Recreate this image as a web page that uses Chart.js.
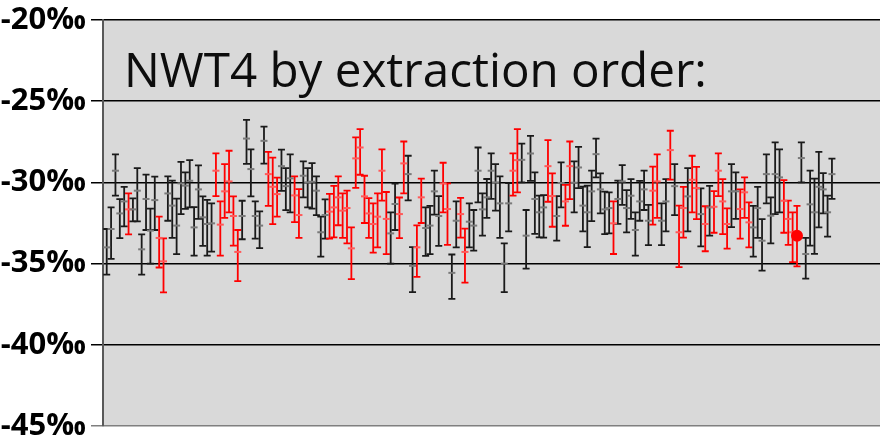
<!DOCTYPE html>
<html><head><meta charset="utf-8">
<script src="https://cdn.jsdelivr.net/npm/chart.js@4"></script>
<style>html,body{margin:0;padding:0;background:#fff}#wrap{width:887px;height:442px;position:relative}</style>
</head><body><div id="wrap"><canvas id="c"></canvas></div>
<script>
const titleText = 'NWT4 by extraction order:';
const yTicks = [-45, -40, -35, -30, -25, -20];
const tickSuffix = '\u2030';
const values = [
-34.00,-32.87,-29.28,-31.91,-31.17,-31.66,-31.66,-30.51,-34.12,-31.02,
-32.97,-31.09,-33.42,-34.86,-30.68,-31.43,-32.66,-30.06,-30.20,-29.90,
-32.77,-30.43,-32.15,-32.56,-32.52,-29.28,-32.60,-30.55,-29.94,-32.07,
-34.28,-32.07,-27.30,-29.18,-32.07,-32.66,-27.44,-29.49,-30.27,-30.72,
-29.00,-30.23,-29.75,-30.80,-32.01,-29.59,-30.00,-29.96,-30.51,-33.07,
-32.01,-31.80,-31.54,-30.92,-31.74,-31.58,-34.06,-28.52,-27.85,-30.86,
-31.91,-32.56,-32.11,-29.28,-32.25,-33.14,-31.33,-31.95,-28.83,-29.49,
-35.14,-34.00,-30.92,-32.81,-32.66,-30.55,-32.07,-30.06,-31.64,-35.57,
-32.36,-31.95,-34.28,-32.42,-32.66,-29.28,-31.66,-30.92,-29.28,-30.00,
-31.29,-35.00,-31.29,-29.28,-28.63,-28.61,-33.28,-28.22,-31.02,-31.84,
-31.54,-29.00,-30.84,-32.07,-30.04,-31.17,-29.00,-30.02,-29.08,-31.43,
-31.84,-30.55,-28.26,-30.43,-31.66,-31.58,-32.52,-31.02,-29.94,-31.58,
-30.82,-32.93,-31.17,-30.43,-32.36,-30.51,-29.94,-32.36,-31.17,-28.01,
-30.23,-33.07,-31.58,-30.86,-29.84,-30.35,-31.95,-32.56,-31.54,-31.50,
-29.28,-31.17,-32.56,-30.55,-30.55,-31.64,-30.61,-32.46,-32.77,-31.58,
-33.59,-29.49,-32.05,-29.49,-29.69,-31.13,-32.25,-33.07,-33.28,-28.50,
-34.41,-31.35,-31.84,-30.27,-30.43,-31.84,-29.49
];
const errUp = [
1.13,1.33,1.00,0.88,0.90,0.98,0.68,1.39,0.92,1.50,
1.35,1.45,1.31,1.41,1.05,1.54,1.66,1.33,0.82,1.27,
1.25,1.48,1.29,1.48,1.23,1.07,1.43,1.68,1.89,1.21,
1.35,0.94,1.15,1.21,0.90,0.88,0.88,1.37,1.80,1.02,
1.02,1.11,1.48,1.17,1.60,0.88,0.88,1.15,0.88,0.96,
0.96,1.09,1.33,1.29,1.07,1.07,1.29,1.29,1.13,1.27,
0.94,1.27,1.43,1.31,1.66,1.29,1.25,1.02,1.35,1.13,
1.15,1.35,1.15,1.27,1.21,1.27,1.23,1.27,1.58,1.13,
1.19,1.00,1.43,1.13,0.96,1.43,0.98,1.13,1.07,1.13,
1.66,1.25,1.25,1.07,1.91,1.00,1.58,1.09,1.64,1.02,
0.76,1.60,1.39,1.23,1.27,1.02,1.52,1.31,1.27,1.17,
1.64,1.27,0.96,0.98,1.09,0.96,1.35,1.13,1.00,1.11,
1.02,1.09,1.27,1.15,0.98,1.48,1.66,1.07,1.37,1.19,
1.35,1.64,1.31,1.74,1.48,1.31,1.58,1.09,1.33,0.96,
1.07,1.37,0.96,1.68,1.17,1.21,0.92,1.23,1.33,1.31,
1.33,1.21,1.13,1.95,1.72,1.27,1.13,1.23,1.84,0.96,
1.00,2.07,2.07,2.15,1.00,1.02,0.96
];
const errDown = [
1.68,1.84,1.54,1.52,1.54,1.54,0.74,1.89,1.56,1.91,
2.03,1.84,1.82,1.91,1.68,1.99,1.76,1.89,1.43,1.64,
1.74,1.82,1.76,1.95,1.74,1.56,1.91,1.64,1.91,1.82,
1.80,1.43,1.56,1.68,1.39,1.39,1.41,1.95,2.30,1.39,
1.52,1.48,2.09,1.64,1.41,1.33,1.54,1.66,1.50,1.50,
1.45,1.66,1.84,1.72,1.68,2.17,1.89,1.82,1.68,1.64,
1.50,1.76,1.89,1.84,2.17,1.86,1.60,1.48,1.84,1.62,
1.62,1.82,1.58,1.72,1.76,1.43,1.84,1.78,2.21,1.60,
1.64,1.45,1.89,1.58,1.54,1.95,1.62,1.27,1.74,1.74,
2.13,1.76,1.72,1.54,1.99,1.39,2.03,1.68,2.15,1.54,
1.86,2.19,1.89,1.52,1.50,1.50,2.03,1.82,1.27,1.58,
2.15,1.84,1.43,1.48,1.52,1.56,1.89,1.54,1.45,1.50,
1.43,1.58,1.19,1.27,1.50,2.09,2.25,1.50,1.84,1.82,
1.78,2.15,1.82,2.15,2.01,1.91,1.99,1.68,1.74,1.60,
1.56,2.01,1.52,2.21,1.70,1.82,1.58,1.54,1.80,1.84,
1.84,1.80,1.70,2.46,2.15,1.97,1.60,1.84,1.89,1.50,
1.52,2.54,2.56,2.50,1.48,1.50,1.52
];
const redPoints = [6,13,14,26,27,28,29,30,31,38,39,40,44,45,52,53,54,55,56,57,58,59,60,61,62,63,64,65,68,69,72,73,78,79,82,83,94,95,102,103,106,107,117,126,127,130,132,133,135,136,138,140,141,142,143,146,147,148,156,157,158,159];
const highlightPoint = 159;
const extractionOrder = values.map((_, i) => i + 1);

const isRed = n => redPoints.includes(n);

const bgPlugin = {
  id: 'bg',
  beforeDraw(chart) {
    const {ctx, chartArea: a} = chart;
    ctx.save();
    ctx.fillStyle = '#d9d9d9';
    ctx.fillRect(a.left, a.top, a.right - a.left, a.bottom - a.top);
    ctx.restore();
  }
};

const overlayPlugin = {
  id: 'overlay',
  beforeDatasetsDraw(chart) {
    const {ctx, chartArea: a} = chart;
    const xs = chart.scales.x, ys = chart.scales.y;
    ctx.save();
    let size = 46;
    ctx.font = size + 'px "Open Sans"';
    const w = ctx.measureText(titleText).width;
    size = size * 583 / w;
    ctx.font = size.toFixed(2) + 'px "Open Sans"';
    ctx.fillStyle = '#0d0d0d';
    ctx.textBaseline = 'alphabetic';
    ctx.textAlign = 'left';
    ctx.fillText(titleText, a.left + 21, a.top + 67);
    ctx.lineWidth = 1.8;
    extractionOrder.forEach((n, i) => {
      const x = xs.getPixelForValue(n);
      const yt = ys.getPixelForValue(values[i] + errUp[i]);
      const yb = ys.getPixelForValue(values[i] - errDown[i]);
      ctx.strokeStyle = isRed(n) ? '#ff0000' : '#1a1a1a';
      ctx.beginPath();
      ctx.moveTo(x, yt); ctx.lineTo(x, yb);
      ctx.moveTo(x - 3.5, yt); ctx.lineTo(x + 3.5, yt);
      ctx.moveTo(x - 3.5, yb); ctx.lineTo(x + 3.5, yb);
      ctx.stroke();
    });
    ctx.restore();
  }
};

new Chart(document.getElementById('c'), {
  type: 'scatter',
  data: {
    datasets: [{
      data: extractionOrder.map((n, i) => ({x: n, y: values[i]})),
      showLine: false,
      pointStyle: c => (c.dataIndex + 1 === highlightPoint ? 'circle' : 'line'),
      pointRadius: c => (c.dataIndex + 1 === highlightPoint ? 5 : 3.5),
      pointHoverRadius: c => (c.dataIndex + 1 === highlightPoint ? 5 : 3.5),
      borderWidth: 2,
      borderColor: c => (c.dataIndex + 1 === highlightPoint ? '#ff0000' : (isRed(c.dataIndex + 1) ? '#ff5a5a' : '#7a7a7a')),
      backgroundColor: c => (c.dataIndex + 1 === highlightPoint ? '#ff0000' : 'rgba(0,0,0,0)')
    }]
  },
  options: {
    responsive: true,
    maintainAspectRatio: false,
    animation: false,
    devicePixelRatio: 1,
    layout: {padding: {top: 20, bottom: 16, left: 0, right: 0}},
    plugins: {legend: {display: false}, tooltip: {enabled: false}, title: {display: false}},
    scales: {
      x: {type: 'linear', min: 0.15, max: 178, display: false},
      y: {
        min: -45, max: -20,
        afterBuildTicks: s => { s.ticks = yTicks.map(v => ({value: v})); },
        ticks: {
          callback: v => v + tickSuffix,
          color: '#000',
          padding: 5,
          font: {family: '"Open Sans"', size: 31, weight: 'bold', lineHeight: 1}
        },
        grid: {
          color: c => (c.tick && c.tick.value === -45 ? '#7f7f7f' : '#000'),
          lineWidth: 1.5,
          tickLength: 12,
          drawTicks: true
        },
        border: {color: '#595959', width: 2},
        afterFit: s => { s.width = 103; s.paddingTop = 0; s.paddingBottom = 0; }
      }
    }
  },
  plugins: [bgPlugin, overlayPlugin]
});
</script>
</body></html>
